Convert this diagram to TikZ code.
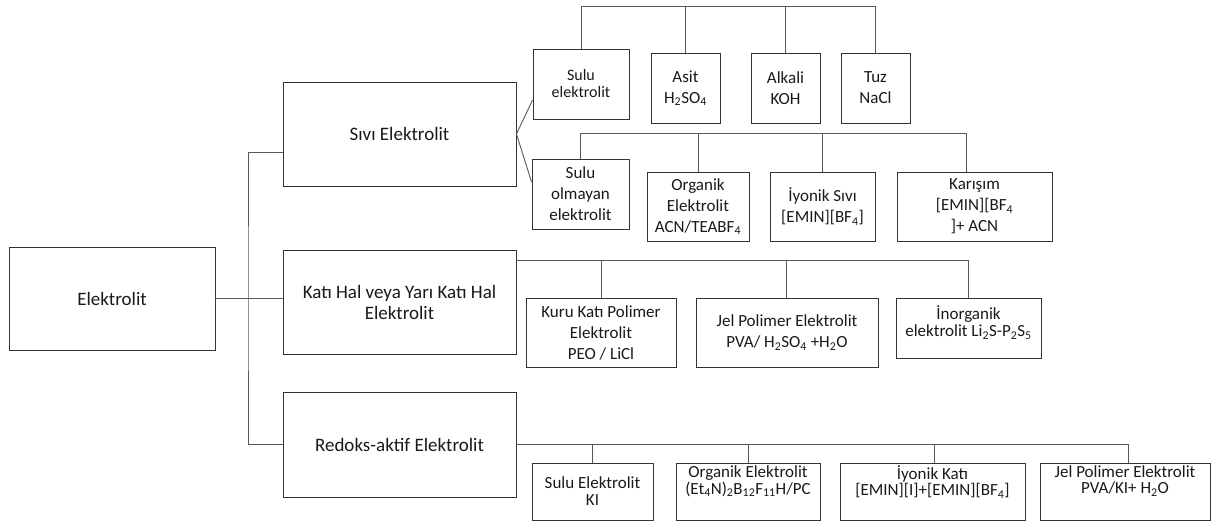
\documentclass[tikz,border=0pt]{standalone}
\usepackage{fontspec}
\setmainfont{Carlito}
\usepackage{tikz}

\begin{document}
\begin{tikzpicture}[x=1pt, y=-1pt]
		\tikzstyle{anakutu} = [rectangle, minimum width=233pt, minimum height=104pt, align=center, draw=black!80, line width=0.9pt, text=black!90, font=\fontsize{19}{21}\selectfont]
		\tikzstyle{kutu} = [rectangle, minimum height=69pt, align=center, draw=black!80, line width=0.9pt, text=black!90, inner sep=2pt, font=\fontsize{17}{21}\selectfont]
		\tikzstyle{ustkutu} = [rectangle, inner sep=0pt, draw=black!80, line width=0.9pt, text=black!90]
		\tikzstyle{cizgi} = [draw=black!65, line width=0.9pt]
		\useasboundingbox (0,0) rectangle (1217,522);

		\node (elektrolit) [anakutu, minimum width=206pt, minimum height=103pt] at (112,298.5) {Elektrolit};
		\node (sivi) [anakutu] at (399.5,134) {Sıvı Elektrolit};
		\node (kati) [anakutu] at (399.5,302) {Katı Hal veya Yarı Katı Hal\\Elektrolit};
		\node (redoks) [anakutu, minimum height=105pt] at (399.5,444.5) {Redoks-aktif Elektrolit};

		\node (sulu) [kutu, minimum width=96pt, minimum height=70pt, font=\fontsize{16}{17}\selectfont] at (581,84) {Sulu\\elektrolit};
		\node (asit) [kutu, minimum width=69pt, minimum height=70pt] at (685.5,88) {Asit\\H\textsubscript{2}SO\textsubscript{4}};
		\node (alkali) [kutu, minimum width=69pt, minimum height=70pt] at (785.5,88) {Alkali\\KOH};
		\node (tuz) [kutu, minimum width=69pt, minimum height=70pt] at (875.5,88) {Tuz\\NaCl};

		\node (olmayan) [kutu, minimum width=97pt, minimum height=70pt] at (580.5,194) {Sulu\\olmayan\\elektrolit};
		\node (organik) [kutu, minimum width=102pt] at (698,206.5) {Organik\\Elektrolit\\ACN/TEABF\textsubscript{4}};
		\node (iyonik) [kutu, minimum width=105pt] at (822.5,206.5) {İyonik Sıvı\\{}[EMIN][BF\textsubscript{4}]};
		\node (karisim) [kutu, minimum width=155pt] at (974.5,206.5) {Karışım\\{}[EMIN][BF\textsubscript{4}\\{}]+ ACN};

		\node (kuru) [kutu, minimum width=150pt] at (601,332.5) {Kuru Katı Polimer\\Elektrolit\\PEO / LiCl};
		\node (jel) [kutu, minimum width=182pt] at (787,332.5) {Jel Polimer Elektrolit\\PVA/ H\textsubscript{2}SO\textsubscript{4} +H\textsubscript{2}O};
		\node (inorganik) [ustkutu] at (968.5,328) {\parbox[c][60pt][t]{145pt}{\centering\fontsize{17}{17}\selectfont\vspace*{8pt}İnorganik\\elektrolit Li\textsubscript{2}S-P\textsubscript{2}S\textsubscript{5}}};

		\node (sulu2) [kutu, minimum width=121pt, minimum height=57pt, font=\fontsize{17}{17}\selectfont] at (592.5,491.5) {Sulu Elektrolit\\KI};
		\node (organik2) [ustkutu] at (748,491.5) {\parbox[c][57pt][t]{144pt}{\centering\fontsize{17}{14}\selectfont\vspace*{3pt}Organik Elektrolit\\(Et\textsubscript{4}N)\textsubscript{2}B\textsubscript{12}F\textsubscript{11}H/PC}};
		\node (iyonik2) [ustkutu] at (932.5,491.5) {\parbox[c][57pt][t]{185pt}{\centering\fontsize{17}{14}\selectfont\vspace*{3pt}İyonik Katı\\{}[EMIN][I]+[EMIN][BF\textsubscript{4}]}};
		\node (jel2) [ustkutu] at (1125,491.5) {\parbox[c][57pt][t]{170pt}{\centering\fontsize{17}{16}\selectfont\vspace*{3pt}Jel Polimer Elektrolit\\PVA/KI+ H\textsubscript{2}O}};

		\coordinate (govde) at (248,298.5);
		\path [cizgi] (elektrolit.east) -- (kati.west |- elektrolit.east);
		\path [cizgi] ([yshift=-18pt]sivi.west) -| (govde) |- (redoks.west);

		\path [cizgi] (sivi.east) -- ([yshift=-16pt]sulu.west);
		\path [cizgi] (sivi.east) -- ([yshift=12pt]olmayan.west);
		\path [cizgi] (sulu.north) -- ++(0,-42) -| (tuz.north);
		\foreach \k in {asit, alkali}
			\path [cizgi] (\k.north) -- ++(0,-46);
		\path [cizgi] (olmayan.north) -- ++(0,-25) -| ([xshift=-8.5pt]karisim.north);
		\foreach \k in {organik, iyonik}
			\path [cizgi] (\k.north) -- ++(0,-38);

		\path [cizgi] ([yshift=42pt]kati.east) -| (inorganik.north);
		\path [cizgi] (kuru.north) -- ++(0,-38);
		\path [cizgi] ([xshift=-1pt]jel.north) -- ++(0,-38);

		\path [cizgi] (redoks.east) -| ([xshift=3pt]jel2.north);
		\path [cizgi] (sulu2.north) -- ++(0,-19);
		\path [cizgi] (organik2.north) -- ++(0,-19);
		\path [cizgi] ([xshift=1.5pt]iyonik2.north) -- ++(0,-19);
	\end{tikzpicture}
\end{document}
